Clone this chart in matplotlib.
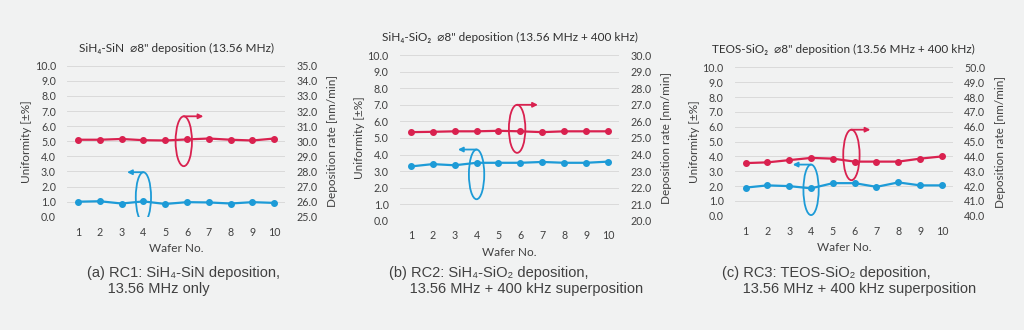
import matplotlib
matplotlib.use("Agg")
import matplotlib.pyplot as plt
from matplotlib.patches import Ellipse

plt.rcParams['font.family'] = ['Lato', 'DejaVu Sans']

BG = "#f1f2f2"
RED = "#d9214f"
BLUE = "#1d9bd7"
TXT = "#404040"

wafers = [1, 2, 3, 4, 5, 6, 7, 8, 9, 10]

# deposition rate [nm/min] (right axis)
rate_a = [30.10, 30.10, 30.15, 30.07, 30.05, 30.12, 30.18, 30.10, 30.05, 30.18]
rate_b = [25.35, 25.37, 25.40, 25.40, 25.43, 25.40, 25.35, 25.40, 25.40, 25.40]
rate_c = [43.55, 43.60, 43.75, 43.90, 43.85, 43.65, 43.65, 43.65, 43.85, 44.00]

# uniformity [+-%] (left axis)
unif_a = [1.00, 1.03, 0.88, 1.02, 0.85, 0.97, 0.95, 0.88, 0.97, 0.92]
unif_b = [3.28, 3.42, 3.35, 3.50, 3.50, 3.50, 3.55, 3.50, 3.50, 3.57]
unif_c = [1.90, 2.05, 2.00, 1.85, 2.20, 2.20, 1.95, 2.25, 2.05, 2.05]

rate_ranges = [(25, 35), (20, 30), (40, 50)]

titles = ["SiH\u2084-SiN  \u23008\" deposition (13.56 MHz)",
          "SiH\u2084-SiO\u2082  \u23008\" deposition (13.56 MHz + 400 kHz)",
          "TEOS-SiO\u2082  \u23008\" deposition (13.56 MHz + 400 kHz)"]

captions = ["(a) RC1: SiH\u2084-SiN deposition,\n     13.56 MHz only",
            "(b) RC2: SiH\u2084-SiO\u2082 deposition,\n     13.56 MHz + 400 kHz superposition",
            "(c) RC3: TEOS-SiO\u2082 deposition,\n     13.56 MHz + 400 kHz superposition"]

# ellipse annotations: (center y, height) in left-axis units, arrow end x
red_marks = [(5.0, 3.3, 6.75), (5.55, 2.9, 6.8), (4.1, 3.4, 6.72)]
blue_marks = [(1.3, 3.3, 3.25), (2.8, 3.0, 3.15), (1.75, 3.4, 3.16)]

# axes boxes in figure fractions
boxes = [(0.0655, 0.343, 0.213, 0.458),
         (0.3905, 0.331, 0.214, 0.502),
         (0.7175, 0.346, 0.213, 0.450)]
caption_x = [0.085, 0.380, 0.705]

rates = [rate_a, rate_b, rate_c]
unifs = [unif_a, unif_b, unif_c]

fig = plt.figure(figsize=(10.24, 3.3), dpi=100)
fig.patch.set_facecolor(BG)

for i in range(3):
    ax = fig.add_axes(boxes[i])
    ax.set_facecolor(BG)
    ax2 = ax.twinx()
    lo, hi = rate_ranges[i]

    ax.plot(wafers, unifs[i], color=BLUE, lw=1.6, marker='o', ms=4, zorder=3)
    ax2.plot(wafers, rates[i], color=RED, lw=1.6, marker='o', ms=4, zorder=3)

    ax.set_xlim(0.5, 10.5)
    ax.set_ylim(0, 10)
    ax2.set_ylim(lo, hi)
    ax.set_yticks(range(0, 11))
    ax2.set_yticks(range(lo, hi + 1))
    ax.set_yticklabels(["%.1f" % v for v in range(0, 11)])
    ax2.set_yticklabels(["%.1f" % v for v in range(lo, hi + 1)])
    ax.set_xticks(wafers)
    ax.grid(axis='y', color="#dadada", lw=0.7)
    ax.set_axisbelow(True)
    for a in (ax, ax2):
        for s in a.spines.values():
            s.set_visible(False)
        a.tick_params(length=0, labelsize=7.7, colors=TXT)
    ax.tick_params(axis='y', pad=8)
    ax.tick_params(axis='x', pad=7)
    ax2.tick_params(axis='y', pad=8)
    ax.set_ylabel("Uniformity [\u00b1%]", fontsize=8.5, color=TXT, labelpad=2)
    ax2.set_ylabel("Deposition rate [nm/min]", fontsize=8.5, color=TXT, labelpad=7)
    ax.set_xlabel("Wafer No.", fontsize=8.5, color=TXT, labelpad=4)
    ax.set_title(titles[i], fontsize=8.5, color="#303030", pad=10)

    # red ellipse + arrow (points to right axis)
    cy, h, xe = red_marks[i]
    ax.add_patch(Ellipse((5.85, cy), 0.75, h, fill=False, ec=RED, lw=1.3, zorder=4))
    ax.annotate("", xy=(xe, cy + h / 2), xytext=(5.85, cy + h / 2),
                arrowprops=dict(arrowstyle="-|>", color=RED, lw=1.3,
                                mutation_scale=7, shrinkA=0, shrinkB=0))
    # blue ellipse + arrow (points to left axis)
    cy, h, xe = blue_marks[i]
    ax.add_patch(Ellipse((4.0, cy), 0.7, h, fill=False, ec=BLUE, lw=1.3, zorder=4))
    ax.annotate("", xy=(xe, cy + h / 2), xytext=(4.0, cy + h / 2),
                arrowprops=dict(arrowstyle="-|>", color=BLUE, lw=1.3,
                                mutation_scale=7, shrinkA=0, shrinkB=0))

    fig.text(caption_x[i], 0.195, captions[i], fontsize=10.5, color=TXT,
             family=['Liberation Sans', 'DejaVu Sans'], va='top', linespacing=1.25)

fig.savefig("out.png", dpi=100, facecolor=BG)
